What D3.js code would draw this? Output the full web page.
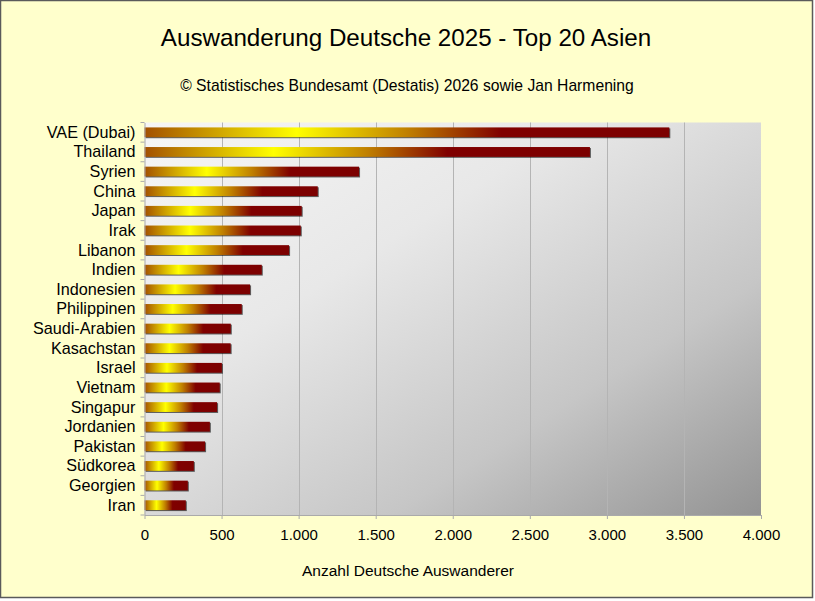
<!DOCTYPE html>
<html>
<head>
<meta charset="utf-8">
<script src="https://cdn.jsdelivr.net/npm/d3@7"></script>
<style>
  html, body { margin: 0; padding: 0; background: #ffffff; }
  svg { display: block; font-family: "Liberation Sans", Arial, sans-serif; }
</style>
</head>
<body>
<svg id="chart" width="815" height="601"></svg>
<script>
const categories = ["VAE (Dubai)", "Thailand", "Syrien", "China", "Japan", "Irak", "Libanon", "Indien", "Indonesien", "Philippinen", "Saudi-Arabien", "Kasachstan", "Israel", "Vietnam", "Singapur", "Jordanien", "Pakistan", "Südkorea", "Georgien", "Iran"];
const values = [3405, 2890, 1392, 1124, 1020, 1014, 938, 761, 685, 631, 560, 559, 502, 488, 471, 424, 393, 320, 281, 268];
const xTicks = [0, 500, 1000, 1500, 2000, 2500, 3000, 3500, 4000];
const title = "Auswanderung Deutsche 2025 - Top 20 Asien";
const subtitle = "© Statistisches Bundesamt (Destatis) 2026 sowie Jan Harmening";
const xTitle = "Anzahl Deutsche Auswanderer";

const svg = d3.select("#chart");
const plot = { left: 144.5, right: 761, top: 122.5, bottom: 515 };

const defs = svg.append("defs");
const bg = defs.append("linearGradient").attr("id", "plotGrad")
  .attr("x1", "0").attr("y1", "0").attr("x2", "1").attr("y2", "1");
bg.append("stop").attr("offset", "0").attr("stop-color", "#f6f6f6");
bg.append("stop").attr("offset", "0.35").attr("stop-color", "#e8e8e8");
bg.append("stop").attr("offset", "0.7").attr("stop-color", "#c6c6c6");
bg.append("stop").attr("offset", "1").attr("stop-color", "#939393");

const bar = defs.append("linearGradient").attr("id", "barGrad")
  .attr("x1", "0").attr("y1", "0").attr("x2", "1").attr("y2", "0");
bar.append("stop").attr("offset", "0").attr("stop-color", "#a35000");
bar.append("stop").attr("offset", "0.29").attr("stop-color", "#ffff00");
bar.append("stop").attr("offset", "0.5").attr("stop-color", "#c08000");
bar.append("stop").attr("offset", "0.68").attr("stop-color", "#800000");
bar.append("stop").attr("offset", "1").attr("stop-color", "#7c0000");

// chart background + border
svg.append("rect").attr("x", 0.5).attr("y", 0.5).attr("width", 812).attr("height", 597)
  .attr("fill", "#ffffcc").attr("stroke", "#5a5a5a").attr("stroke-width", 1.5);

const x = d3.scaleLinear().domain([0, 4000]).range([plot.left, plot.right]);
const y = d3.scaleBand().domain(categories).range([plot.top, plot.bottom]).paddingInner(0.5).paddingOuter(0.25);
const yb = d3.scaleBand().domain(categories).range([plot.top, plot.bottom]);

// plot area
svg.append("rect").attr("x", plot.left).attr("y", plot.top)
  .attr("width", plot.right - plot.left).attr("height", plot.bottom - plot.top)
  .attr("fill", "url(#plotGrad)");

// gridlines
svg.append("g").selectAll("line").data(xTicks.slice(1, -1)).join("line")
  .attr("x1", d => Math.round(x(d)) + 0.5).attr("x2", d => Math.round(x(d)) + 0.5)
  .attr("y1", plot.top).attr("y2", plot.bottom)
  .attr("stroke", "#b4b4b4").attr("stroke-width", 1);

// bars with shadow
const bars = svg.append("g");
bars.selectAll("rect.sh").data(values).join("rect").attr("class", "sh")
  .attr("x", x(0) + 1).attr("y", (d, i) => y(categories[i]) + 1)
  .attr("width", d => x(d) - x(0)).attr("height", y.bandwidth())
  .attr("fill", "#000").attr("opacity", 0.6);
bars.selectAll("rect.b").data(values).join("rect").attr("class", "b")
  .attr("x", x(0)).attr("y", (d, i) => y(categories[i]))
  .attr("width", d => x(d) - x(0)).attr("height", y.bandwidth())
  .attr("fill", "url(#barGrad)");

// x axis
const xAxis = d3.axisBottom(x).tickValues(xTicks).tickSizeInner(4).tickSizeOuter(0)
  .tickFormat(d => d3.format(",")(d).replace(/,/g, "."));
const gx = svg.append("g").attr("transform", `translate(0,${plot.bottom})`).call(xAxis);
gx.select(".domain").attr("stroke", "#aaaaaa");
gx.selectAll(".tick line").attr("stroke", "#aaaaaa");
gx.selectAll(".tick text").attr("fill", "#000").attr("font-size", 15)
  .attr("font-family", "Liberation Sans, Arial, sans-serif").attr("dy", null).attr("y", 24.5);

// y axis
const yAxis = d3.axisLeft(yb).tickSize(0);
const gy = svg.append("g").attr("transform", `translate(${plot.left},0)`).call(yAxis);
gy.select(".domain").attr("stroke", "#aaaaaa");
gy.selectAll(".tick text").attr("fill", "#000").attr("font-size", 16.2)
  .attr("font-family", "Liberation Sans, Arial, sans-serif").attr("dy", null).attr("x", -9).attr("y", 5.5);
// boundary ticks
svg.append("g").selectAll("line").data(d3.range(categories.length + 1)).join("line")
  .attr("x1", plot.left - 4).attr("x2", plot.left)
  .attr("y1", i => plot.top + i * yb.step()).attr("y2", i => plot.top + i * yb.step())
  .attr("stroke", "#aaaaaa");

// texts
svg.append("text").attr("x", 406).attr("y", 46).attr("text-anchor", "middle")
  .attr("font-size", 24.2).attr("fill", "#000").text(title);
svg.append("text").attr("x", 407).attr("y", 91).attr("text-anchor", "middle")
  .attr("font-size", 15.7).attr("fill", "#000").text(subtitle);
svg.append("text").attr("x", 408).attr("y", 576).attr("text-anchor", "middle")
  .attr("font-size", 15.5).attr("fill", "#000").text(xTitle);
</script>
</body>
</html>
